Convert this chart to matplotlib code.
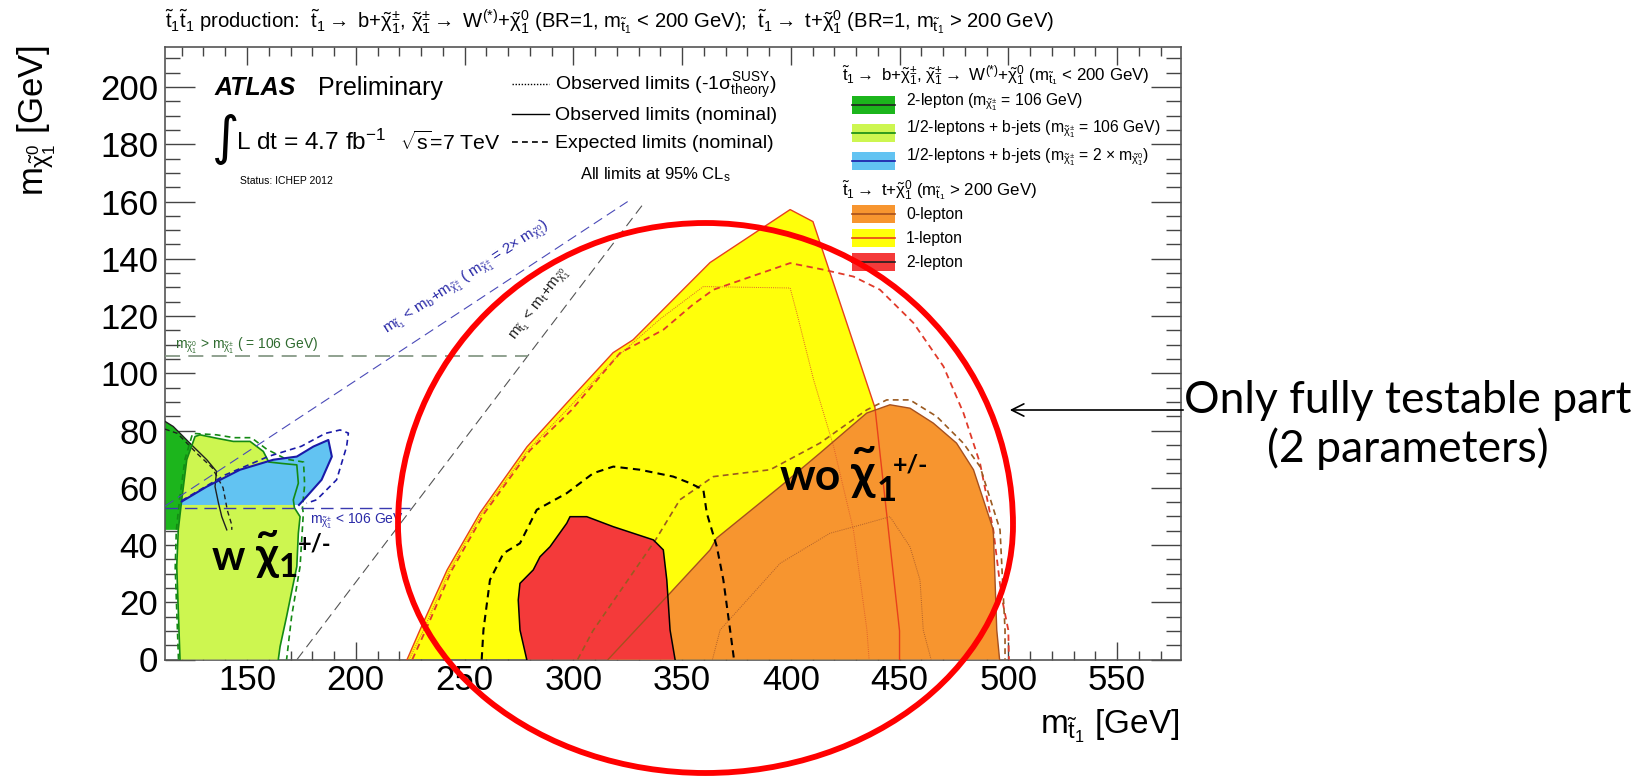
import matplotlib
matplotlib.use("Agg")
import matplotlib.pyplot as plt
from matplotlib import font_manager
from matplotlib.patches import Polygon, Arc, Rectangle, FancyArrowPatch
from matplotlib.lines import Line2D
import numpy as np

# ------------------------------------------------------------------ data
x_ticks = [150, 200, 250, 300, 350, 400, 450, 500, 550]
y_ticks = [0, 20, 40, 60, 80, 100, 120, 140, 160, 180, 200]

# stop -> t + neutralino, 1-lepton observed (yellow)
lep1_obs_x = [223.6, 229.5, 242.0, 257.1, 278.7, 297.1, 318.3, 327.5, 349.1, 362.9, 399.7, 410.2, 438.7, 450.0, 450.0]
lep1_obs_y = [0.0, 10.3, 31.3, 51.2, 74.3, 89.7, 107.2, 111.7, 128.2, 138.7, 157.2, 153.0, 88.0, 10.0, 0.0]
# 1-lepton expected
lep1_exp_x = [226, 232, 244, 259, 280, 299, 321.5, 341.4, 355, 364.4, 399.7, 415, 428.8, 441, 456.4, 470.2, 479.4, 487, 493.1, 496.9, 500, 500.3]
lep1_exp_y = [0, 10, 31, 51, 73, 87, 107.1, 115.2, 124, 129.2, 138.5, 136.2, 133.8, 129.2, 117.6, 102.4, 86.1, 68.6, 45.3, 22, 10.3, 0]
# 1-lepton observed -1 sigma
lep1_m1_x = [224.5, 231, 243, 258, 279, 298, 319, 340, 359.8, 399.7, 402.8, 410.5, 419.7, 428.8, 435.0, 436.0]
lep1_m1_y = [0, 10, 31, 51, 73, 88, 105, 119, 130.3, 129.8, 121.0, 97.7, 74.4, 45.3, 10.3, 0]

# 0-lepton observed (orange)
lep0_obs_x = [316.0, 344.5, 362.9, 365.9, 395.1, 413.4, 434.9, 445.6, 454.8, 465.5, 476.2, 484.0, 493.1, 494.7, 496.0]
lep0_obs_y = [0.0, 23.2, 38.3, 42.4, 60.4, 72.1, 86.1, 89.0, 87.8, 82.6, 75.6, 66.3, 45.3, 10.3, 0.0]
# 0-lepton expected
lep0_exp_x = [302, 309, 338, 349, 364.4, 390.5, 413.4, 434.9, 444.1, 454.8, 467.1, 479.3, 487.0, 496.2, 498.5, 498.5]
lep0_exp_y = [0, 10, 42, 55.8, 63.9, 66.3, 75.6, 87.2, 90.7, 90.7, 84.9, 75.6, 67.4, 45.3, 10.3, 0]
# 0-lepton observed -1 sigma
lep0_m1_x = [364.0, 367.5, 395.1, 418.0, 434.9, 445.6, 454.8, 459.4, 460.9, 464.5]
lep0_m1_y = [0, 10.3, 33.6, 44.1, 47.6, 49.9, 39.4, 27.8, 10.3, 0]

# 2-lepton (stop -> t) observed (red)
lep2t_obs_x = [278.6, 275.5, 274.7, 275.5, 281.6, 284.7, 289.3, 297.0, 298.5, 306.2, 318.4, 336.8, 341.4, 343.0, 344.5, 346.8]
lep2t_obs_y = [0.0, 10.3, 20.8, 26.6, 31.3, 35.9, 39.4, 47.6, 49.9, 49.9, 46.4, 41.8, 38.3, 27.8, 10.3, 0.0]
# 2-lepton (stop -> t) expected
lep2t_exp_x = [257.9, 258.7, 261.7, 267.9, 275.5, 283.2, 297.0, 309.2, 318.4, 330.7, 346.0, 353.7, 359.8, 361.4, 366.0, 369.0, 372.1, 373.9]
lep2t_exp_y = [0.0, 10.3, 27.8, 37.1, 40.6, 52.3, 58.1, 65.1, 67.4, 66.3, 63.9, 61.6, 59.3, 51.1, 39.4, 27.8, 10.3, 0.0]

# stop -> b + chargino, 2-lepton (m_chargino = 106) observed (dark green)
lep2b_obs_x = [112.3, 116.1, 125.3, 131.5, 136.0, 135.3, 136.9, 138.4, 140.7, 112.3]
lep2b_obs_y = [83.2, 81.4, 74.4, 69.8, 65.7, 60.4, 54.6, 49.9, 45.3, 45.3]
lep2b_exp_x = [112.3, 118, 127, 134, 139, 141, 143, 143]
lep2b_exp_y = [80.5, 79, 72, 67, 60, 52, 47, 45.3]

# 1/2-leptons + b-jets (m_chargino = 106) observed (light green)
bj106_obs_x = [119.2, 117.7, 118.4, 120.0, 122.3, 126.1, 128.4, 136.1, 143.7, 151.4, 157.5, 160.0, 166.0, 172.9, 173.6, 171.3, 171.8, 174.4, 173.6, 172.9, 168.2, 165.2, 164.4]
bj106_obs_y = [0.0, 32.5, 45.3, 55.8, 69.8, 77.9, 78.5, 77.3, 76.2, 76.2, 72.7, 69.0, 68.5, 68.0, 61.6, 55.8, 53.0, 49.9, 44.1, 32.5, 15.0, 4.5, 0.0]
bj106_exp_x = [118.5, 117.0, 117.5, 119.0, 121.5, 125.0, 136.0, 144.0, 152.0, 159.0, 168.0, 176.0, 176.5, 175.5, 175.9, 174.4, 170.5, 168.2]
bj106_exp_y = [0.0, 32.0, 45.0, 56.0, 70.0, 79.0, 78.5, 77.5, 77.5, 73.5, 70.0, 69.0, 61.0, 53.0, 51.1, 32.5, 15.0, 0.0]

# 1/2-leptons + b-jets (m_chargino = 2 x m_neutralino) observed (blue)
bj2x_obs_x = [120.0, 131.5, 146.8, 162.1, 172.9, 180.5, 187.4, 189.0, 184.3, 177.4, 173.9, 120.0]
bj2x_obs_y = [55.2, 60.4, 66.3, 69.8, 70.9, 74.4, 76.7, 70.9, 62.8, 56.9, 54.0, 54.0]
bj2x_exp_x = [120.0, 140.0, 160.0, 175.0, 186.0, 192.8, 196.6, 195.8, 191.2, 182.0, 177.4, 120.0]
bj2x_exp_y = [55.5, 64.5, 71.0, 74.5, 79.0, 80.2, 79.1, 74.4, 62.8, 55.8, 54.6, 54.6]

# kinematic limits
kin_top_x = [173.0, 333.0]          # m_stop = m_top + m_chi0
kin_top_y = [0.0, 160.0]
kin_b_x = [112.3, 325.0]            # m_stop = m_b + m_chargino, m_chargino = 2 m_chi0
kin_b_y = [53.6, 160.0]
kin_c106_x = [112.3, 279.0]         # m_chi0 = 106
kin_c106_y = [106.0, 106.0]
kin_c53_x = [112.3, 225.0]          # m_chargino < 106 GeV
kin_c53_y = [53.0, 53.0]

# ------------------------------------------------------------------ fonts
_names = {f.name for f in font_manager.fontManager.ttflist}
SANS = "Liberation Sans" if "Liberation Sans" in _names else "DejaVu Sans"
SLIDE = "Lato" if "Lato" in _names else SANS

plt.rcParams["font.family"] = [SANS, "DejaVu Sans"]
plt.rcParams["mathtext.fontset"] = "custom"
plt.rcParams["mathtext.rm"] = SANS
plt.rcParams["mathtext.it"] = SANS
plt.rcParams["mathtext.bf"] = SANS + ":bold"
plt.rcParams["mathtext.sf"] = SANS

# ------------------------------------------------------------------ figure
W, H = 1650, 783
fig = plt.figure(figsize=(W / 100, H / 100), dpi=100)
fig.patch.set_facecolor("white")
renderer = fig.canvas.get_renderer()


def fx(px):
    return px / W


def fy(py):
    return 1 - py / H


def fit_width(t, target_px):
    w = t.get_window_extent(renderer).width
    t.set_fontsize(t.get_fontsize() * target_px / w)
    return t.get_fontsize()


AX_L, AX_R, AX_T, AX_B = 165, 1181, 47, 659.5
ax = fig.add_axes([fx(AX_L), fy(AX_B), (AX_R - AX_L) / W, (AX_B - AX_T) / H])
ax.set_xlim(112.3, 579.4)
ax.set_ylim(0, 214)

C_DGREEN = "#1cb51c"
C_LGREEN = "#cdf650"
C_BLUE = "#62c3f2"
C_ORANGE = "#f7952f"
C_YELLOW = "#ffff0a"
C_RED = "#f43a3a"


def fill(xs, ys, fc, z):
    ax.add_patch(Polygon(list(zip(xs, ys)), closed=True, fc=fc, ec="none", zorder=z))


fill(lep1_obs_x, lep1_obs_y, C_YELLOW, 2)
fill(lep0_obs_x, lep0_obs_y, C_ORANGE, 3)
fill(lep2t_obs_x, lep2t_obs_y, C_RED, 4)
fill(lep2b_obs_x, lep2b_obs_y, C_DGREEN, 2)
fill(bj106_obs_x, bj106_obs_y, C_LGREEN, 3)
fill(bj2x_obs_x, bj2x_obs_y, C_BLUE, 4)

DASH = (0, (3.5, 2.5))
DOT = (0, (1, 1.2))
ax.plot(lep1_obs_x, lep1_obs_y, color="#e8401c", lw=1.0, zorder=6)
ax.plot(lep1_exp_x, lep1_exp_y, color="#e03a2a", lw=1.3, ls=DASH, zorder=6)
ax.plot(lep1_m1_x, lep1_m1_y, color="#e0602a", lw=0.7, ls=DOT, zorder=6)
ax.plot(lep0_obs_x, lep0_obs_y, color="#a6501e", lw=1.0, zorder=6)
ax.plot(lep0_exp_x, lep0_exp_y, color="#9a5a20", lw=1.2, ls=DASH, zorder=6)
ax.plot(lep0_m1_x, lep0_m1_y, color="#b0602a", lw=0.7, ls=DOT, zorder=6)
ax.plot(lep2t_obs_x, lep2t_obs_y, color="black", lw=1.1, zorder=6)
ax.plot(lep2t_exp_x, lep2t_exp_y, color="black", lw=1.5, ls=DASH, zorder=6)
ax.plot(lep2b_obs_x[:-1], lep2b_obs_y[:-1], color="#202020", lw=1.0, zorder=6)
ax.plot(lep2b_exp_x, lep2b_exp_y, color="#202020", lw=1.0, ls=DASH, zorder=6)
ax.plot(bj106_obs_x, bj106_obs_y, color="#148a14", lw=1.2, zorder=6)
ax.plot(bj106_exp_x, bj106_exp_y, color="#148a14", lw=1.2, ls=DASH, zorder=6)
ax.plot(bj2x_obs_x[:-1], bj2x_obs_y[:-1], color="#1a1aa8", lw=1.5, zorder=6)
ax.plot(bj2x_exp_x[:-1], bj2x_exp_y[:-1], color="#1a1aa8", lw=1.2, ls=DASH, zorder=6)

LDASH = (0, (9, 5))
ax.plot(kin_top_x, kin_top_y, color="#555555", lw=0.8, ls=LDASH, zorder=7)
ax.plot(kin_b_x, kin_b_y, color="#4a4ab8", lw=0.8, ls=LDASH, zorder=7)
ax.plot(kin_c106_x, kin_c106_y, color="#7d917d", lw=1.2, ls=LDASH, zorder=7)
ax.plot(kin_c53_x, kin_c53_y, color="#3a3ab0", lw=1.0, ls=LDASH, zorder=7)


def line_angle(xs, ys):
    p = ax.transData.transform(np.column_stack([xs, ys]))
    return np.degrees(np.arctan2(p[1, 1] - p[0, 1], p[1, 0] - p[0, 0]))


ax.text(117, 108.5, r"$m_{\tilde{\chi}^0_1}$ > $m_{\tilde{\chi}^{\pm}_1}$ ( = 106 GeV)",
        fontsize=10, color="#2f6b2f", ha="left", va="baseline", zorder=8)
ax.text(179, 47.5, r"$m_{\tilde{\chi}^{\pm}_1}$ < 106 GeV", fontsize=10,
        color="#2b2ba8", ha="left", va="baseline", zorder=8)
ax.text(216, 111.5,
        r"$m_{\tilde{t}_1}$ < $m_b$+$m_{\tilde{\chi}^{\pm}_1}$ ( $m_{\tilde{\chi}^{\pm}_1}$ = 2$\times$ $m_{\tilde{\chi}^0_1}$)",
        fontsize=11, color="#2b2ba8", rotation=line_angle(kin_b_x, kin_b_y),
        rotation_mode="anchor", ha="left", va="bottom", zorder=8)
ax.text(276, 110.0, r"$m_{\tilde{t}_1}$ < $m_t$+$m_{\tilde{\chi}^0_1}$",
        fontsize=11, color="#222222", rotation=line_angle(kin_top_x, kin_top_y),
        rotation_mode="anchor", ha="left", va="bottom", zorder=8)

ax.set_xticks(x_ticks)
ax.set_yticks(y_ticks)
ax.set_xticklabels([str(v) for v in x_ticks])
ax.set_yticklabels([str(v) for v in y_ticks])
ax.set_xticks(np.arange(120, 580, 10), minor=True)
ax.set_yticks(np.arange(0, 214, 5), minor=True)
ax.tick_params(axis="both", which="both", direction="in", top=True, right=True,
               colors="#444444", labelcolor="black", width=1.0)
ax.tick_params(axis="x", which="major", length=13, labelsize=25, pad=3)
ax.tick_params(axis="x", which="minor", length=6.5)
ax.tick_params(axis="y", which="major", length=21.5, labelsize=25, pad=5)
ax.tick_params(axis="y", which="minor", length=10.8)
for s in ax.spines.values():
    s.set_color("#555555")
    s.set_linewidth(1.2)

fig.text(fx(1179), fy(726), r"$m_{\tilde{t}_1}$ [GeV]", fontsize=24, ha="right", va="center")
fig.text(fx(37), fy(45), r"$m_{\tilde{\chi}^0_1}$ [GeV]", fontsize=25, rotation=90,
         ha="center", va="top")

title = fig.text(fx(165), fy(28),
                 r"$\tilde{t}_1\tilde{t}_1$ production:  $\tilde{t}_1\rightarrow$ b+$\tilde{\chi}^{\pm}_1$, "
                 r"$\tilde{\chi}^{\pm}_1\rightarrow$ W$^{(*)}$+$\tilde{\chi}^0_1$ (BR=1, $m_{\tilde{t}_1}$ < 200 GeV);  "
                 r"$\tilde{t}_1\rightarrow$ t+$\tilde{\chi}^0_1$ (BR=1, $m_{\tilde{t}_1}$ > 200 GeV)",
                 fontsize=16, ha="left", va="baseline")
fit_width(title, 893)

# ATLAS block
fig.text(fx(215), fy(95), "ATLAS", fontsize=18, fontweight="bold", fontstyle="italic",
         ha="left", va="baseline")
fig.text(fx(318), fy(95), "Preliminary", fontsize=18, ha="left", va="baseline")
fig.text(fx(212), fy(139), "\u222b", fontsize=38, family="DejaVu Sans", ha="left", va="center")
t_l = fig.text(fx(236), fy(150), r"L dt = 4.7 fb$^{-1}$", fontsize=19, ha="left", va="baseline")
fit_width(t_l, 150)
t_s = fig.text(fx(400), fy(150), r"$\sqrt{s}$=7 TeV", fontsize=19, ha="left", va="baseline")
fit_width(t_s, 101)
fig.text(fx(240), fy(184), "Status: ICHEP 2012", fontsize=7.5, ha="left", va="baseline")

ls_rows = [84, 114, 142]
ls_styles = [DOT, "-", DASH]
ls_texts = [r"Observed limits (-1$\sigma^{\rm SUSY}_{\rm theory}$)",
            "Observed limits (nominal)", "Expected limits (nominal)"]
for yy, st, tt in zip(ls_rows, ls_styles, ls_texts):
    fig.add_artist(Line2D([fx(512), fx(549)], [fy(yy), fy(yy)], color="black",
                          lw=1.0 if st != DASH else 1.2, ls=st, transform=fig.transFigure))
    fig.text(fx(555), fy(yy + 6), tt, fontsize=14, ha="left", va="baseline")
fig.text(fx(655), fy(179), r"All limits at 95% CL$_{\rm s}$", fontsize=12, ha="center",
         va="baseline")

h1 = fig.text(fx(842), fy(80),
              r"$\tilde{t}_1\rightarrow$ b+$\tilde{\chi}^{\pm}_1$, $\tilde{\chi}^{\pm}_1\rightarrow$ "
              r"W$^{(*)}$+$\tilde{\chi}^0_1$ ($m_{\tilde{t}_1}$ < 200 GeV)",
              fontsize=12.6, ha="left", va="baseline")
fit_width(h1, 308)
fig.text(fx(842), fy(195), r"$\tilde{t}_1\rightarrow$ t+$\tilde{\chi}^0_1$ ($m_{\tilde{t}_1}$ > 200 GeV)",
         fontsize=h1.get_fontsize(), ha="left", va="baseline")
leg_rows = [105, 133, 161, 214, 238, 262]
leg_base = [105, 132, 160, 219, 243, 267]
leg_fc = [C_DGREEN, C_LGREEN, C_BLUE, C_ORANGE, C_YELLOW, C_RED]
leg_lc = ["#202020", "#148a14", "#1a1aa8", "#a6501e", "#e8401c", "#202020"]
leg_txt = [r"2-lepton ($m_{\tilde{\chi}^{\pm}_1}$ = 106 GeV)",
           r"1/2-leptons + b-jets ($m_{\tilde{\chi}^{\pm}_1}$ = 106 GeV)",
           r"1/2-leptons + b-jets ($m_{\tilde{\chi}^{\pm}_1}$ = 2 $\times$ $m_{\tilde{\chi}^0_1}$)",
           "0-lepton", "1-lepton", "2-lepton"]
for yc, yb, fc, lc, tt in zip(leg_rows, leg_base, leg_fc, leg_lc, leg_txt):
    fig.add_artist(Rectangle((fx(852), fy(yc + 9)), 43 / W, 18 / H, fc=fc, ec="none",
                             transform=fig.transFigure))
    fig.add_artist(Line2D([fx(852), fx(895)], [fy(yc), fy(yc)], color=lc, lw=1.2,
                          transform=fig.transFigure))
    fig.text(fx(906), fy(yb), tt, fontsize=11.3, ha="left", va="baseline")

# ------------------------------------------------------------------ slide annotations
# egg-shaped red outline: upper half taller than lower half
E_CX, E_CY, E_A, E_BT, E_BB = 705.5, 525, 307.5, 302, 248
for h, t1, t2 in ((2 * E_BT, 0, 180), (2 * E_BB, 180, 360)):
    fig.add_artist(Arc((E_CX / 100, (H - E_CY) / 100), 2 * E_A / 100, h / 100,
                       theta1=t1, theta2=t2, transform=fig.dpi_scale_trans,
                       ec="#ff0000", lw=4.2, zorder=20, clip_on=False))
fig.add_artist(FancyArrowPatch((fx(1186), fy(410)), (fx(1007), fy(410)),
                               transform=fig.transFigure, arrowstyle="->",
                               mutation_scale=22, lw=1.2, color="black", zorder=21))
t_o = fig.text(fx(1408), fy(413), "Only fully testable part", fontsize=40, family=SLIDE,
               ha="center", va="baseline")
fs_o = fit_width(t_o, 448)
fig.text(fx(1408), fy(462), "(2 parameters)", fontsize=fs_o, family=SLIDE,
         ha="center", va="baseline")


def chi_label(xw, base, prefix, big, xc, tilde_y, x1, base1, xs, bases, sub, sup):
    fam = [SLIDE, "DejaVu Sans"]
    fig.text(fx(xw), fy(base), prefix, fontsize=big, family=fam, fontweight="bold",
             ha="left", va="baseline", zorder=22)
    fig.text(fx(xc), fy(base), "\u03c7", fontsize=big * 1.1, family=fam,
             fontweight="bold", ha="center", va="baseline", zorder=22)
    fig.text(fx(xc + 1), fy(tilde_y), "~", fontsize=big * 0.95, family=fam,
             fontweight="bold", ha="center", va="center", zorder=22)
    fig.text(fx(x1), fy(base1), "1", fontsize=sub, family=fam,
             fontweight="bold", ha="left", va="baseline", zorder=22)
    fig.text(fx(xs), fy(bases), "+/-", fontsize=sup, family=fam,
             fontweight="bold", ha="left", va="baseline", zorder=22)


chi_label(212, 570, "w", 30, 267, 535, 279, 577, 298, 552, 24, 17)
chi_label(780, 490, "wo", 32, 863, 450, 877, 501, 893, 473, 25, 18)

fig.savefig("out.png", dpi=100, facecolor="white")
